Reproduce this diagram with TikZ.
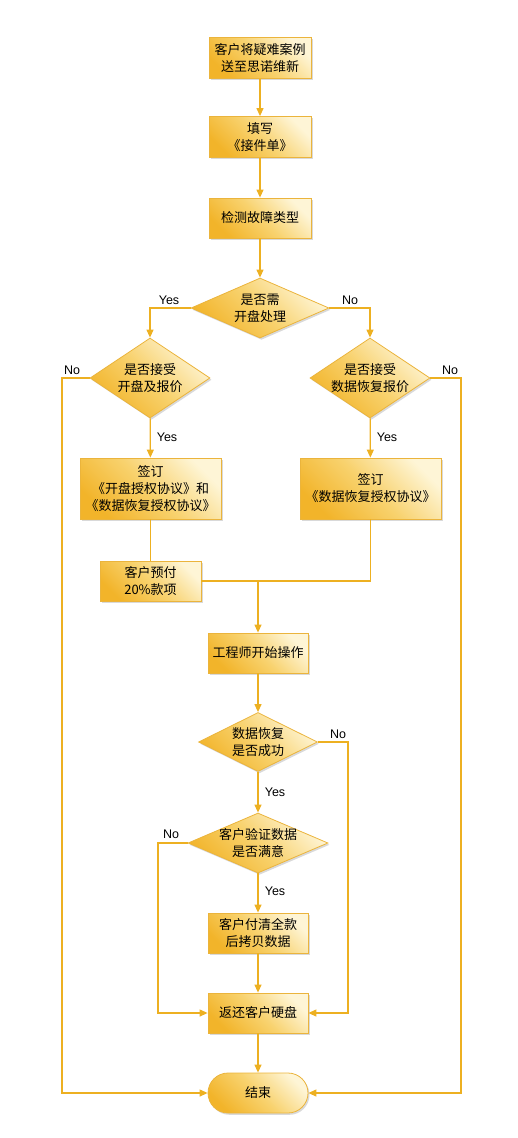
\documentclass[tikz,border=0pt]{standalone}
\usepackage{fontspec}
\setmainfont{Liberation Sans}
\newfontfamily\cjk{Noto Sans CJK SC}
\usetikzlibrary{shapes.geometric,arrows.meta,shadows}
\definecolor{ln}{HTML}{EDB021}
\definecolor{bord}{HTML}{EBB43C}
\definecolor{dk}{HTML}{F2B42A}
\definecolor{md}{HTML}{F8D26E}
\definecolor{lt}{HTML}{FEF5D6}
\tikzset{
  shade/.style={top color=lt, bottom color=dk, middle color=md, shading angle=-45,
    draw=bord, line width=0.8pt,
    drop shadow={shadow xshift=1.5pt, shadow yshift=-1.8pt, opacity=0.25, fill=black!60}},
  proc/.style={shade, rectangle, minimum width=100pt, minimum height=40pt, inner sep=0pt,
    align=center, font=\cjk\fontsize{13}{17}\selectfont},
  term/.style={proc, rounded corners=20pt},
  dec/.style={shade, diamond, inner sep=0pt},
  dtxt/.style={align=center, inner sep=0pt, font=\cjk\fontsize{13}{17}\selectfont},
  lab/.style={inner sep=0pt, font=\fontsize{12.5}{14}\selectfont},
  arr/.style={draw=ln, line width=1.2pt, -{Triangle[length=8pt,width=7pt]}},
  plain/.style={draw=ln, line width=1.2pt},
}
\begin{document}
\begin{tikzpicture}[x=1pt,y=-1pt]
\useasboundingbox (0,0) rectangle (518,1138);
% nodes
\node[proc, minimum width=102pt, minimum height=41pt] (b1) at (260,58) {客户将疑难案例\\送至思诺维新};
\node[proc, minimum width=102pt, minimum height=41pt] (b2) at (260,137) {填写\\《接件单》};
\node[proc, minimum width=102pt] (b3) at (260,218) {检测故障类型};
\node[dec, minimum width=138pt, minimum height=60pt] (d1) at (260,308) {};
\node[dtxt] (d1t) at (d1) {是否需\\开盘处理};
\node[dec, minimum width=120pt, minimum height=80pt] (d2) at (150,378) {};
\node[dtxt] (d2t) at (d2) {是否接受\\开盘及报价};
\node[dec, minimum width=120pt, minimum height=80pt] (d3) at (370,378) {};
\node[dtxt] (d3t) at (d3) {是否接受\\数据恢复报价};
\node[proc, minimum width=141pt, minimum height=61pt] (b4) at (150.5,488.5) {签订\\《开盘授权协议》和\\《数据恢复授权协议》};
\node[proc, minimum width=141pt, minimum height=61pt] (b5) at (370.5,488.5) {签订\\《数据恢复授权协议》};
\node[proc, minimum width=101pt] (b6) at (150.5,581) {客户预付\\20\%款项};
\node[proc] (b7) at (258,653) {工程师开始操作};
\node[dec, minimum width=119pt, minimum height=59pt] (d4) at (258,742) {};
\node[dtxt] (d4t) at (d4) {数据恢复\\是否成功};
\node[dec, minimum width=140pt, minimum height=60pt] (d5) at (258,843) {};
\node[dtxt] (d5t) at (d5) {客户验证数据\\是否满意};
\node[proc] (b8) at (258,933) {客户付清全款\\后拷贝数据};
\node[proc] (b9) at (258,1013) {返还客户硬盘};
\node[term] (e) at (258,1093) {结束};
% helper coordinates
\coordinate (j) at (258,581);
\coordinate (lN) at (62,1093);
\coordinate (rN) at (461,1093);
\coordinate (r4) at (348,1013);
\coordinate (l5) at (158,1013);
% connectors
\draw[arr] (b1) -- (b2);
\draw[arr] (b2) -- (b3);
\draw[arr] (b3) -- (d1);
\draw[arr] (d1.west) -| (d2.north);
\draw[arr] (d1.east) -| (d3.north);
\draw[arr] (d2) -- (b4);
\draw[arr] (d3) -- (b5);
\draw[arr] (d2.west) -| (lN) -- (e.west);
\draw[arr] (d3.east) -| (rN) -- (e.east);
\draw[plain] (b4) -- (b6);
\draw[plain] (b5.south) |- (b6.east);
\draw[arr] (j) -- (b7);
\draw[arr] (b7) -- (d4);
\draw[arr] (d4) -- (d5);
\draw[arr] (d4.east) -| (r4) -- (b9.east);
\draw[arr] (d5) -- (b8);
\draw[arr] (d5.west) -| (l5) -- (b9.west);
\draw[arr] (b8) -- (b9);
\draw[arr] (b9) -- (e);
% labels
\node[lab] (y1) at (169,300) {Yes};
\node[lab] (n1) at (350,300) {No};
\node[lab] (n2) at (72,370) {No};
\node[lab] (n3) at (450,370) {No};
\node[lab] (y2) at (167,437) {Yes};
\node[lab] (y3) at (387,437) {Yes};
\node[lab] (n4) at (338,734) {No};
\node[lab] (y4) at (275,792) {Yes};
\node[lab] (n5) at (171,834) {No};
\node[lab] (y5) at (275,891) {Yes};
\end{tikzpicture}
\end{document}
